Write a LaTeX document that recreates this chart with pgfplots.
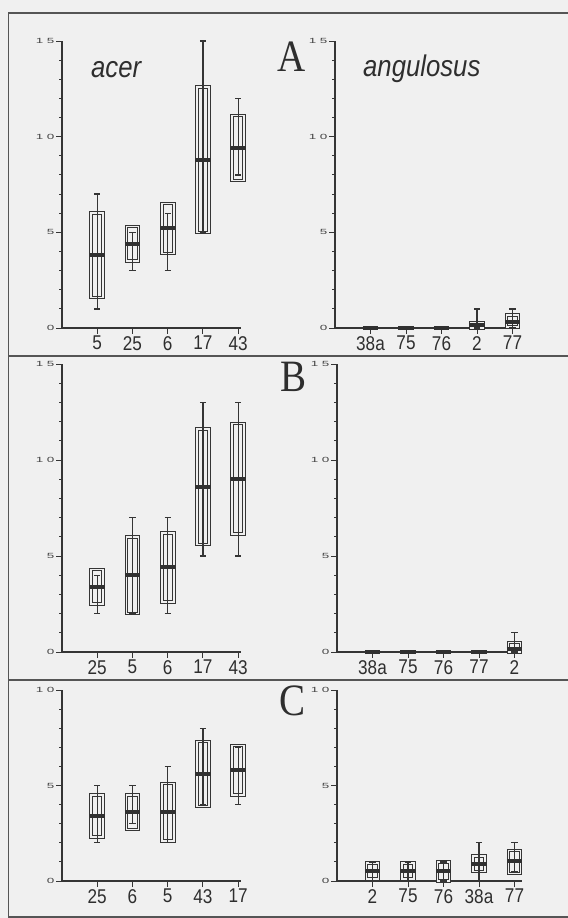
\documentclass[border=0pt]{standalone}
\usepackage{pgfplots}
\pgfplotsset{compat=1.18}
\usepgfplotslibrary{statistics}
\usepackage{fontspec}
\setmainfont{Liberation Sans}[FakeStretch=0.86]
\newfontfamily\letterfont{Liberation Serif}[FakeStretch=0.87]
\newfontfamily\tickfont{Liberation Sans}[FakeStretch=1.8]
\definecolor{bgc}{HTML}{F0F0F0}
\definecolor{linec}{HTML}{353535}
\definecolor{framec}{HTML}{555555}
\definecolor{txtc}{HTML}{2E2E2E}
\definecolor{ytc}{HTML}{444444}
\newcommand\ytl[1]{{\tickfont\fontsize{7.5}{7.5}\selectfont #1}}
\newcommand\bx[6]{\addplot[boxplot prepared={draw position=#1, lower whisker=#2, lower quartile=#3, median=#4, upper quartile=#5, upper whisker=#6}] coordinates {};}
\pgfplotsset{
  panel/.style={
    scale only axis, anchor=south west, clip=false,
    xmin=0, ymin=0,
    axis lines=left,
    axis line style={-, linec, line width=1.2bp},
    every tick/.style={linec, line width=0.9bp},
    tick align=outside,
    major tick length=6bp, minor tick length=3bp,
    xtick={1,2,3,4,5},
    minor y tick num=4,
    xticklabel style={font=\fontsize{20}{20}\selectfont, text=txtc, inner sep=0pt, yshift=-2bp},
    yticklabel style={text=ytc, inner sep=0pt, xshift=-1.5bp},
    boxplot/draw direction=y,
    boxplot/box extend=0.34,
    boxplot/whisker extend=0.18,
    boxplot/draw/lower whisker/.code={},
    boxplot/draw/upper whisker/.code={},
    boxplot/draw/median/.code={},
    boxplot/draw/average/.code={},
    boxplot/draw/box/.code={%
      \draw[linec, line width=1bp, double=bgc, double distance=1.6bp]
        (boxplot box cs:\pgfplotsboxplotvalue{lower quartile},0) rectangle
        (boxplot box cs:\pgfplotsboxplotvalue{upper quartile},1);
      \draw[linec, line width=1.3bp]
        (boxplot cs:\pgfplotsboxplotvalue{lower whisker}) --
        (boxplot cs:\pgfplotsboxplotvalue{upper whisker});
      \draw[linec, line width=1.3bp]
        (boxplot whisker cs:\pgfplotsboxplotvalue{lower whisker},0) --
        (boxplot whisker cs:\pgfplotsboxplotvalue{lower whisker},1)
        (boxplot whisker cs:\pgfplotsboxplotvalue{upper whisker},0) --
        (boxplot whisker cs:\pgfplotsboxplotvalue{upper whisker},1);
      \draw[linec!90!black, line width=4bp, shorten <=-1.6bp, shorten >=-1.6bp]
        (boxplot box cs:\pgfplotsboxplotvalue{median},0) --
        (boxplot box cs:\pgfplotsboxplotvalue{median},1);
    },
  },
  leftp/.style={panel, width=179bp, xmax=5.08},
  rightp/.style={panel, width=184.6bp, xmax=5.2},
  fifteen/.style={ymax=15, ytick={0,5,10,15},
    yticklabels={\ytl{0},\ytl{5},\ytl{1\hspace{3.5bp}0},\ytl{1\hspace{3.5bp}5}}},
  ten/.style={ymax=10, ytick={0,5,10},
    yticklabels={\ytl{0},\ytl{5},\ytl{1\hspace{3.5bp}0}}},
}
\begin{document}
\begin{tikzpicture}[x=1bp,y=1bp]
\path[use as bounding box, fill=bgc] (0,0) rectangle (568,918);
% frame
\draw[framec, line width=1.3bp] (568,905) -- (8.5,905) -- (8.5,1) -- (568,1);
\draw[framec, line width=1.3bp] (8.5,562) -- (568,562);
\draw[framec, line width=1.3bp] (8.5,238) -- (568,238);

% ---------- A ----------
\begin{axis}[leftp, fifteen, at={(62bp,590bp)}, height=287bp,
  xticklabels={5,25,6,17,43}]
\bx{1}{1}{1.6}{3.8}{6.0}{7}
\bx{2}{3}{3.5}{4.4}{5.3}{5}
\bx{3}{3}{3.9}{5.2}{6.5}{6}
\bx{4}{5}{5}{8.8}{12.6}{15}
\bx{5}{8}{7.7}{9.4}{11.1}{12}
\end{axis}
\begin{axis}[rightp, fifteen, at={(335bp,590bp)}, height=287bp,
  xticklabels={38a,75,76,2,77}]
\bx{1}{0}{0}{0}{0}{0}
\bx{2}{0}{0}{0}{0}{0}
\bx{3}{0}{0}{0}{0}{0}
\bx{4}{0}{0}{0.14}{0.28}{1}
\bx{5}{0}{0.05}{0.33}{0.68}{1}
\end{axis}

% ---------- B ----------
\begin{axis}[leftp, fifteen, at={(62bp,266bp)}, height=288bp,
  xticklabels={25,5,6,17,43}]
\bx{1}{2}{2.5}{3.4}{4.3}{4}
\bx{2}{2}{2}{4}{6}{7}
\bx{3}{2}{2.6}{4.45}{6.2}{7}
\bx{4}{5}{5.6}{8.6}{11.6}{13}
\bx{5}{5}{6.15}{9.0}{11.9}{13}
\end{axis}
\begin{axis}[rightp, fifteen, at={(337bp,266bp)}, height=288bp,
  xticklabels={38a,75,76,77,2}]
\bx{1}{0}{0}{0}{0}{0}
\bx{2}{0}{0}{0}{0}{0}
\bx{3}{0}{0}{0}{0}{0}
\bx{4}{0}{0}{0}{0}{0}
\bx{5}{0}{0}{0.15}{0.5}{1}
\end{axis}

% ---------- C ----------
\begin{axis}[leftp, ten, at={(62bp,37bp)}, height=191bp,
  xticklabels={25,6,5,43,17}]
\bx{1}{2}{2.3}{3.4}{4.5}{5}
\bx{2}{3}{2.7}{3.6}{4.5}{5}
\bx{3}{2}{2.1}{3.6}{5.1}{6}
\bx{4}{4}{3.9}{5.6}{7.3}{8}
\bx{5}{4}{4.5}{5.8}{7.1}{7}
\end{axis}
\begin{axis}[rightp, ten, at={(337bp,37bp)}, height=191bp,
  xticklabels={2,75,76,38a,77}]
\bx{1}{0}{0.1}{0.5}{0.95}{1}
\bx{2}{0}{0.1}{0.5}{0.95}{1}
\bx{3}{0}{0}{0.5}{1.0}{1}
\bx{4}{0}{0.5}{0.9}{1.3}{2}
\bx{5}{0.5}{0.4}{1.05}{1.6}{2}
\end{axis}

% labels
\node[anchor=base west, inner sep=0, text=txtc] at (91,840) {\fontsize{30}{30}\selectfont\itshape acer};
\node[anchor=base west, inner sep=0, text=txtc] at (363,841) {\fontsize{30}{30}\selectfont\itshape angulosus};
\node[anchor=base, inner sep=0, text=txtc] at (292,846) {\letterfont\fontsize{45}{45}\selectfont A};
\node[anchor=base, inner sep=0, text=txtc] at (293.5,526) {\letterfont\fontsize{45}{45}\selectfont B};
\node[anchor=base, inner sep=0, text=txtc] at (293,202) {\letterfont\fontsize{45}{45}\selectfont C};
\end{tikzpicture}
\end{document}
